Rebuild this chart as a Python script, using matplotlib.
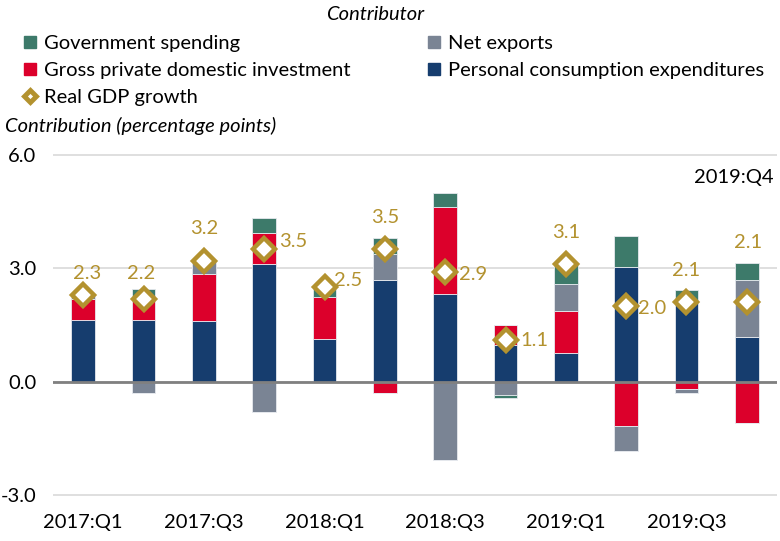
import matplotlib
matplotlib.use("Agg")
import matplotlib.pyplot as plt
from matplotlib.lines import Line2D
import numpy as np

quarters = ["2017:Q1", "2017:Q2", "2017:Q3", "2017:Q4", "2018:Q1", "2018:Q2",
            "2018:Q3", "2018:Q4", "2019:Q1", "2019:Q2", "2019:Q3", "2019:Q4"]
pce = [1.63, 1.63, 1.60, 3.11, 1.14, 2.69, 2.33, 0.97, 0.77, 3.03, 2.09, 1.19]
gpdi = [0.56, 0.57, 1.25, 0.81, 1.09, -0.31, 2.29, 0.54, 1.10, -1.16, -0.18, -1.08]
net_exports = [0.14, -0.31, 0.35, -0.80, 0.02, 0.68, -2.06, -0.35, 0.72, -0.68, -0.13, 1.49]
gov = [-0.04, 0.26, 0.00, 0.42, 0.30, 0.44, 0.36, -0.07, 0.51, 0.82, 0.33, 0.47]
gdp = [2.3, 2.2, 3.2, 3.5, 2.5, 3.5, 2.9, 1.1, 3.1, 2.0, 2.1, 2.1]
tick_labels = ["2017:Q1", "2017:Q3", "2018:Q1", "2018:Q3", "2019:Q1", "2019:Q3"]

# label placement style (offset in points)
label_offsets = [(3, 15), (-2, 18), (0, 23), (21, 6), (17, 5), (0, 23),
                 (20, -2), (21, 0), (0, 23), (19, -2), (0, 23), (1, 43)]

C_GOV = "#3D7A6A"
C_NX = "#7A8494"
C_GPDI = "#DC002B"
C_PCE = "#163D6E"
C_GOLD = "#B3922F"

FONT = "Lato"
plt.rcParams["font.family"] = [FONT, "DejaVu Sans"]
FS = 14.5

fig = plt.figure(figsize=(7.8, 5.41), dpi=100)
ax = fig.add_axes([53/780, 1-496/541, (777-53)/780, (496-154)/541])

x = np.arange(len(quarters))
series = [(pce, C_PCE), (gpdi, C_GPDI), (net_exports, C_NX), (gov, C_GOV)]
pos_base = np.zeros(len(x))
neg_base = np.zeros(len(x))
w = 0.39
for vals, col in series:
    v = np.array(vals)
    pos = np.where(v > 0, v, 0)
    neg = np.where(v < 0, v, 0)
    ax.bar(x, pos, w, bottom=pos_base, color=col, edgecolor="#E6E9EE", linewidth=0.6, zorder=3)
    ax.bar(x, neg, w, bottom=neg_base, color=col, edgecolor="#E6E9EE", linewidth=0.6, zorder=3)
    pos_base += pos
    neg_base += neg

ax.plot(x, gdp, linestyle="none", marker="D", markersize=11.5, markerfacecolor="white",
        markeredgecolor=C_GOLD, markeredgewidth=3.2, zorder=5)
for xi, g, off in zip(x, gdp, label_offsets):
    ax.annotate(f"{g:.1f}", (xi, g), xytext=off, textcoords="offset points",
                ha="center", va="center", color=C_GOLD, fontsize=FS, zorder=6)

ax.set_xlim(-0.5, 11.5)
ax.set_ylim(-3.02, 6.02)
ax.set_yticks([-3, 0, 3, 6])
ax.set_yticklabels(["-3.0", "0.0", "3.0", "6.0"])
ax.set_xticks(x[::2])
ax.set_xticklabels(tick_labels)
ax.tick_params(axis="both", length=0, labelsize=FS, colors="#000000")
ax.tick_params(axis="x", pad=13)
ax.tick_params(axis="y", pad=12)
ax.grid(axis="y", color="#D9D9D9", linewidth=1.2, zorder=0)
ax.axhline(0, color="#808080", linewidth=2, zorder=4)
for s in ax.spines.values():
    s.set_visible(False)

ax.text(0.995, 0.93, "2019:Q4", transform=ax.transAxes, ha="right", va="center", fontsize=FS)

fig.text(375/780, 1-14/541, "Contributor", ha="center", va="center", fontsize=FS, style="italic")
fig.text(5/780, 1-126/541, "Contribution (percentage points)", ha="left", va="center",
         fontsize=FS, style="italic")

def sq(c):
    return Line2D([], [], linestyle="none", marker="s", markersize=8.5, color=c)
dia = Line2D([], [], linestyle="none", marker="D", markersize=6.5, markerfacecolor="white",
             markeredgecolor=C_GOLD, markeredgewidth=3.5)

leg_kw = dict(frameon=False, fontsize=FS, handlelength=0.8, handletextpad=0.3,
              labelspacing=0.5, borderpad=0, borderaxespad=0, loc="upper left")
l1 = fig.legend([sq(C_GOV), sq(C_GPDI), dia],
                ["Government spending", "Gross private domestic investment", "Real GDP growth"],
                bbox_to_anchor=(22/780, 1-35/541), **leg_kw)
l2 = fig.legend([sq(C_NX), sq(C_PCE)],
                ["Net exports", "Personal consumption expenditures"],
                bbox_to_anchor=(426/780, 1-35/541), **leg_kw)

fig.savefig("out.png", dpi=100)
